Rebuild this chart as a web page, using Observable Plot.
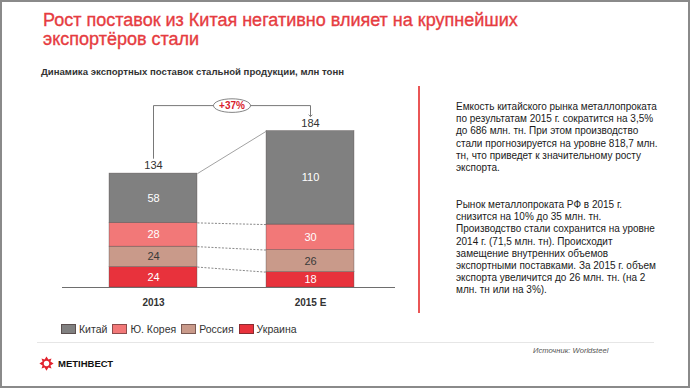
<!DOCTYPE html>
<html>
<head>
<meta charset="utf-8">
<script src="https://cdn.jsdelivr.net/npm/d3@7"></script>
<script src="https://cdn.jsdelivr.net/npm/@observablehq/plot@0.6"></script>
<style>
  html, body { margin: 0; padding: 0; background: #fff; }
  #frame {
    position: relative; width: 690px; height: 388px; box-sizing: border-box;
    border: 2px solid #8a8a8a; overflow: hidden; background: #fff;
    font-family: "Liberation Sans", Arial, sans-serif;
  }
  #title {
    position: absolute; left: 41px; top: 9px; font-size: 18px; line-height: 19px;
    color: #e63c41; -webkit-text-stroke: 0.35px #e63c41; white-space: nowrap;
  }
  #subtitle {
    position: absolute; left: 39px; top: 64px; font-size: 9.6px; font-weight: bold;
    color: #333; white-space: nowrap;
  }
  #chart { position: absolute; left: -2px; top: 83px; }
  #redline { position: absolute; left: 416px; top: 84px; width: 2px; height: 227px; background: #ea5656; }
  .para { position: absolute; left: 454px; font-size: 10px; line-height: 12.2px; color: #1a1a1a; white-space: nowrap; }
  #legend { position: absolute; left: 59px; top: 321px; display: flex; align-items: center; font-size: 10.5px; color: #333; }
  .li { display: flex; align-items: center; margin-right: 5px; }
  .sw { width: 15px; height: 10px; box-sizing: border-box; border: 1px solid rgba(60,40,40,0.55); margin-right: 3px; }
  #footline { position: absolute; left: 35px; top: 340px; width: 617px; height: 1px; background: #e6e6e6; }
  #source { position: absolute; left: 531px; top: 344px; font-size: 7.6px; font-style: italic; color: #555; white-space: nowrap; }
  #logo { position: absolute; left: 37px; top: 354px; display: flex; align-items: center; }
  #logo span { font-size: 9.5px; font-weight: bold; color: #111; margin-left: 4px; }
</style>
</head>
<body>
<div id="frame">
  <div id="title">Рост поставок из Китая негативно влияет на крупнейших<br>экспортёров стали</div>
  <div id="subtitle">Динамика экспортных поставок стальной продукции, млн тонн</div>
  <div id="chart"></div>
  <div id="redline"></div>
  <div class="para" id="p1" style="top:99px">Емкость китайского рынка металлопроката<br>по результатам 2015 г. сократится на 3,5%<br>до 686 млн. тн. При этом производство<br>стали прогнозируется на уровне 818,7 млн.<br>тн, что приведет к значительному росту<br>экспорта.</div>
  <div class="para" id="p2" style="top:197px">Рынок металлопроката РФ в 2015 г.<br>снизится на 10% до 35 млн. тн.<br>Производство стали сохранится на уровне<br>2014 г. (71,5 млн. тн). Происходит<br>замещение внутренних объемов<br>экспортными поставками. За 2015 г. объем<br>экспорта увеличится до 26 млн. тн. (на 2<br>млн. тн или на 3%).</div>
  <div id="legend"></div>
  <div id="footline"></div>
  <div id="source">Источник: Worldsteel</div>
  <div id="logo">
    <svg width="15" height="15" viewBox="-10 -10 20 20">
      <path d="M0,-9.5 L2.6,-5.2 L6.7,-6.7 L5.2,-2.6 L9.5,0 L5.2,2.6 L6.7,6.7 L2.6,5.2 L0,9.5 L-2.6,5.2 L-6.7,6.7 L-5.2,2.6 L-9.5,0 L-5.2,-2.6 L-6.7,-6.7 L-2.6,-5.2 Z" fill="#e2232e"/>
      <circle r="3.6" fill="#fff"/>
    </svg>
    <span>МЕТІНВЕСТ</span>
  </div>
</div>
<script>
// ---- data ----
const years = ["2013", "2015 E"];
const seriesNames = ["Китай", "Ю. Корея", "Россия", "Украина"];
const china = [58, 110];
const korea = [28, 30];
const russia = [24, 26];
const ukraine = [24, 18];
const totals = [134, 184];
const growthLabel = "+37%";

// ---- styling ----
const colors = {"Китай": "#808080", "Ю. Корея": "#f27878", "Россия": "#c99a8a", "Украина": "#e8323c"};
const labelColors = {"Китай": "#fff", "Ю. Корея": "#fff", "Россия": "#3a3a3a", "Украина": "#fff"};
const halfWidth = 0.28;
const bracketLevel = 214;
const bracketGap = 18;

// stack from bottom: Украина, Россия, Ю. Корея, Китай
const stackOrder = [["Украина", ukraine], ["Россия", russia], ["Ю. Корея", korea], ["Китай", china]];
const segments = [];
const boundaries = years.map(() => [0]);
years.forEach((yr, i) => {
  let base = 0;
  for (const [name, vals] of stackOrder) {
    segments.push({i, year: yr, name, y1: base, y2: base + vals[i], value: vals[i]});
    base += vals[i];
    boundaries[i].push(base);
  }
});
const links = [];
for (let k = 1; k < boundaries[0].length; k++) {
  links.push({y1: boundaries[0][k], y2: boundaries[1][k], top: k === boundaries[0].length - 1});
}
const bracket = [
  {x: 0, y: totals[0] + bracketGap},
  {x: 0, y: bracketLevel},
  {x: 1, y: bracketLevel},
  {x: 1, y: totals[1] + bracketGap}
];

const k = 0.5523, rx = 18.5, ry = 6.8;
const ellipseSymbol = {
  draw(ctx) {
    ctx.moveTo(rx, 0);
    ctx.bezierCurveTo(rx, ry * k, rx * k, ry, 0, ry);
    ctx.bezierCurveTo(-rx * k, ry, -rx, ry * k, -rx, 0);
    ctx.bezierCurveTo(-rx, -ry * k, -rx * k, -ry, 0, -ry);
    ctx.bezierCurveTo(rx * k, -ry, rx, -ry * k, rx, 0);
    ctx.closePath();
  }
};

const chart = Plot.plot({
  width: 430,
  height: 235,
  marginTop: 15,
  marginBottom: 33,
  marginLeft: 62,
  marginRight: 35,
  style: {fontFamily: "'Liberation Sans', Arial, sans-serif", color: "#333", background: "transparent"},
  x: {domain: [-0.5, 1.5], range: [74.5, 388.5]},
  y: {domain: [0, 220], axis: null},
  marks: [
    Plot.rect(segments, {
      x1: d => d.i - halfWidth, x2: d => d.i + halfWidth, y1: "y1", y2: "y2",
      fill: d => colors[d.name], stroke: "#4a4040", strokeWidth: 0.6, strokeOpacity: 0.6
    }),
    Plot.link(links.filter(d => d.top), {
      x1: () => halfWidth, x2: () => 1 - halfWidth, y1: "y1", y2: "y2",
      stroke: "#8a8a8a", strokeWidth: 0.8
    }),
    Plot.link(links.filter(d => !d.top), {
      x1: () => halfWidth, x2: () => 1 - halfWidth, y1: "y1", y2: "y2",
      stroke: "#444", strokeWidth: 0.8, strokeDasharray: "2,1.5", strokeOpacity: 0.8
    }),
    Plot.ruleY([0], {stroke: "#6e6e6e", strokeWidth: 1}),
    Plot.text(segments, {
      x: "i", y: d => (d.y1 + d.y2) / 2, text: d => String(d.value),
      fill: d => labelColors[d.name], fontSize: 11
    }),
    Plot.text(totals, {
      x: (d, i) => i, y: d => d, text: d => String(d), dy: -8, fontSize: 11, fill: "#333"
    }),
    Plot.line(bracket, {x: "x", y: "y", stroke: "#555", strokeWidth: 0.8, markerEnd: "arrow"}),
    Plot.dot([0.5], {x: d => d, y: () => bracketLevel, symbol: ellipseSymbol, fill: "#fff", stroke: "#666", strokeWidth: 0.8}),
    Plot.text([growthLabel], {x: () => 0.5, y: () => bracketLevel, text: d => d, fill: "#d8202c", fontSize: 10, fontWeight: "bold"}),
    Plot.axisX({ticks: [0, 1], tickFormat: i => years[i], tickSize: 0, tickPadding: 11, fontSize: 10, fontWeight: "bold", fill: "#333"})
  ]
});
document.getElementById("chart").appendChild(chart);

// legend
const legend = d3.select("#legend");
for (const name of seriesNames) {
  const item = legend.append("div").attr("class", "li");
  item.append("div").attr("class", "sw").style("background", colors[name]);
  item.append("span").text(name);
}
</script>
</body>
</html>
